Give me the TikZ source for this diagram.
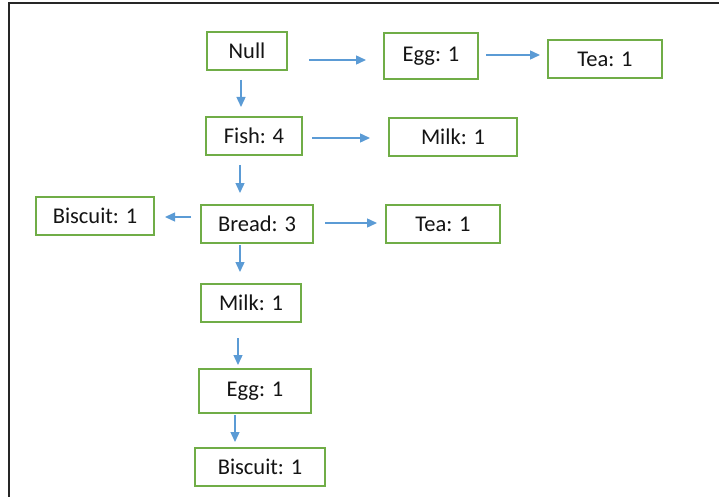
\documentclass[tikz,border=0pt]{standalone}
\usepackage{fontspec}
\setmainfont{Carlito}
\usepackage{tikz}
\usetikzlibrary{positioning,arrows.meta,calc}
\definecolor{boxgreen}{RGB}{112,173,71}
\definecolor{arblue}{RGB}{91,155,213}
\definecolor{txt}{RGB}{20,20,20}
\tikzset{
  item/.style={draw=boxgreen,line width=2pt,fill=white,inner sep=0pt,text=txt,
    font=\fontsize{22.5}{26}\selectfont,minimum height=38pt},
  ar/.style={-{Triangle[length=10pt,width=9pt]},line width=1.4pt,arblue},
  frame/.style={line width=1.8pt,black!85},
}

\begin{document}
\begin{tikzpicture}[x=1pt,y=-1pt]
  \useasboundingbox (0,0) rectangle (719,497);
  \draw[frame] (9,497) -- (9,3) -- (719,3);
  % nodes
  \node[item,minimum width=80pt] (null) at (247,51) {Null};
  \node[item,minimum width=94pt,minimum height=46pt] (egg1) at (431,56) {Egg: 1};
  \node[item,minimum width=114pt] (tea1) at (605,59) {Tea: 1};
  \node[item,minimum width=96pt] (fish) at (254,136) {Fish: 4};
  \node[item,minimum width=128pt] (milk1) at (453,137) {Milk: 1};
  \node[item,minimum width=118pt] (bisc1) at (95,216) {Biscuit: 1};
  \node[item,minimum width=112pt] (bread) at (257,224) {Bread: 3};
  \node[item,minimum width=114pt] (tea2) at (443,224) {Tea: 1};
  \node[item,minimum width=100pt] (milk2) at (251,303) {Milk: 1};
  \node[item,minimum width=112pt,minimum height=44pt] (egg2) at (255,391) {Egg: 1};
  \node[item,minimum width=130pt] (bisc2) at (260,467) {Biscuit: 1};
  % arrows
  \draw[ar] ($(null.east)+(21,9)$) -- ($(egg1.west)+(-17,4)$);
  \draw[ar] ($(egg1.east)+(7,-1)$) -- ($(tea1.west)+(-7,-4)$);
  \draw[ar] ($(null.south)+(-6,9)$) -- ($(fish.north)+(-13,-9)$);
  \draw[ar] ($(fish.east)+(9,2)$) -- ($(milk1.west)+(-18,1)$);
  \draw[ar] ($(fish.south)+(-14,9)$) -- ($(bread.north)+(-17,-11)$);
  \draw[ar] ($(bread.west)+(-9,-7)$) -- ($(bisc1.east)+(10,1)$);
  \draw[ar] ($(bread.east)+(11,-1)$) -- ($(tea2.west)+(-8,-1)$);
  \draw[ar] ($(bread.south)+(-17,1)$) -- ($(milk2.north)+(-11,-11)$);
  \draw[ar] ($(milk2.south)+(-13,15)$) -- ($(egg2.north)+(-17,-3)$);
  \draw[ar] ($(egg2.south)+(-20,1)$) -- ($(bisc2.north)+(-25,-5)$);
\end{tikzpicture}
\end{document}
